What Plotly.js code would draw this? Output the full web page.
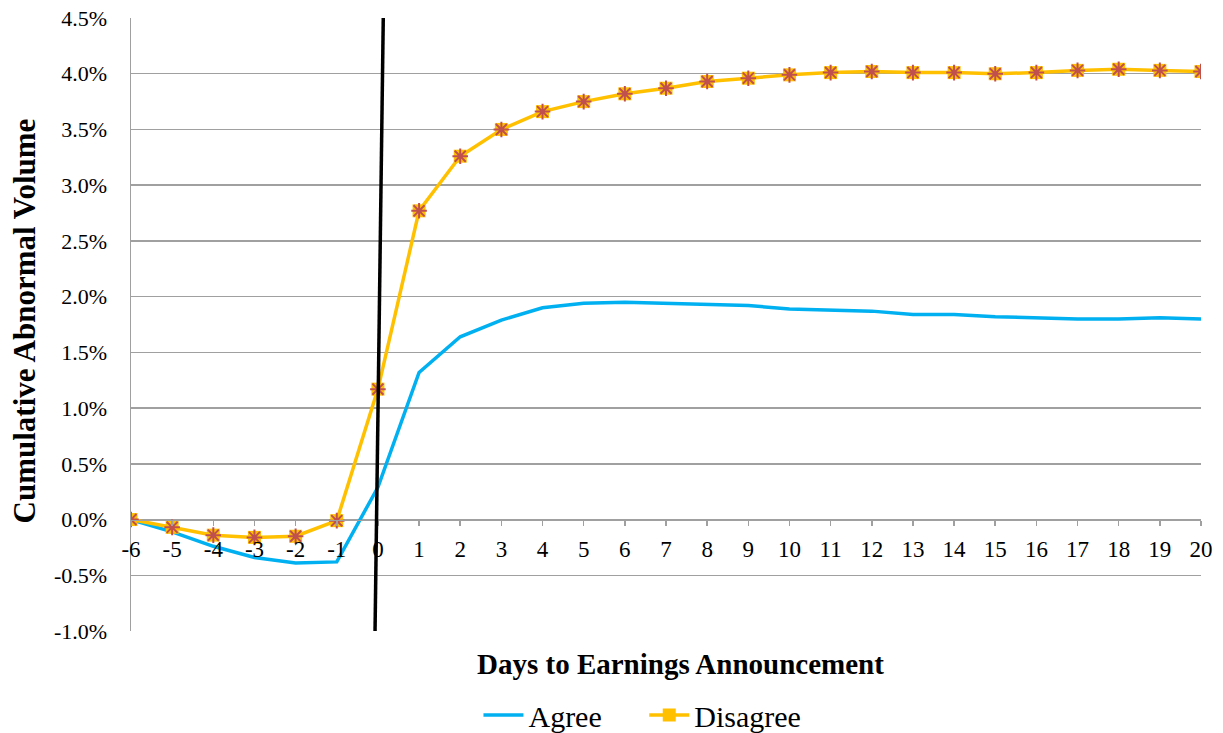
<!DOCTYPE html>
<html>
<head>
<meta charset="utf-8">
<script src="https://cdn.plot.ly/plotly-3.0.1.min.js"></script>
<style>html,body{margin:0;padding:0;background:#fff;}#chart{width:1223px;height:733px;}</style>
</head>
<body>
<div id="chart"></div>
<script>
const days = [-6,-5,-4,-3,-2,-1,0,1,2,3,4,5,6,7,8,9,10,11,12,13,14,15,16,17,18,19,20];
const agree = [0.00,-0.11,-0.24,-0.34,-0.39,-0.38,0.29,1.32,1.64,1.79,1.90,1.94,1.95,1.94,1.93,1.92,1.89,1.88,1.87,1.84,1.84,1.82,1.81,1.80,1.80,1.81,1.80];
const disagree = [0.00,-0.07,-0.14,-0.16,-0.15,-0.01,1.17,2.77,3.26,3.50,3.66,3.75,3.82,3.87,3.93,3.96,3.99,4.01,4.02,4.01,4.01,4.00,4.01,4.03,4.04,4.03,4.02];
const yTickVals = [-1.0,-0.5,0.0,0.5,1.0,1.5,2.0,2.5,3.0,3.5,4.0,4.5];
const yTickText = ["-1.0%","-0.5%","0.0%","0.5%","1.0%","1.5%","2.0%","2.5%","3.0%","3.5%","4.0%","4.5%"];
const xTickText = days.map(d => String(d));
const eventLineX = [-0.07, 0.13]; // bottom, top of the announcement line
const yRange = [-1.0, 4.5];

const serif = 'Liberation Serif';
const grid = '#a0a0a0';
const pad = '\u00A0\u00A0\u00A0\u00A0\u00A0';

const traces = [
  {x: days, y: agree, name: 'Agree' + pad, type: 'scatter', mode: 'lines',
   line: {color: '#00B0F0', width: 3.5}},
  {x: days, y: disagree, name: 'Disagree', type: 'scatter', mode: 'lines+markers',
   line: {color: '#FFC000', width: 3.5},
   marker: {symbol: 'square', size: 13, color: '#FFC000', line: {width: 0}}},
  {x: days, y: disagree, name: 'Disagree', type: 'scatter', mode: 'markers', showlegend: false,
   hoverinfo: 'skip',
   marker: {symbol: 'asterisk-open', size: 13, color: '#C0504D', line: {color: '#C0504D', width: 2}}}
];

const zeroFrac = (0 - yRange[0]) / (yRange[1] - yRange[0]);

const layout = {
  width: 1223, height: 733,
  margin: {l: 131, r: 22, t: 18, b: 102, autoexpand: false},
  paper_bgcolor: '#fff', plot_bgcolor: '#fff',
  font: {family: serif, color: '#000', size: 20},
  showlegend: true,
  legend: {orientation: 'h', x: 0.478, xanchor: 'center', y: -0.137, yanchor: 'middle',
           font: {family: serif, size: 30, color: '#000'}, itemwidth: 40, traceorder: 'normal'},
  xaxis: {
    range: [-6, 20], tickmode: 'array', tickvals: days, ticktext: xTickText,
    anchor: 'free', position: zeroFrac, showgrid: false, zeroline: false,
    showline: true, linecolor: grid, linewidth: 1.5,
    ticks: 'outside', ticklen: 5, tickcolor: grid, tickwidth: 1.5, ticklabelstandoff: 3,
    tickfont: {family: serif, size: 23, color: '#000'}, fixedrange: true
  },
  yaxis: {
    range: yRange, tickmode: 'array', tickvals: yTickVals, ticktext: yTickText,
    showgrid: true, gridcolor: grid, gridwidth: 1.5, zeroline: false,
    showline: true, linecolor: grid, linewidth: 1.5, ticks: '',
    tickfont: {family: serif, size: 22, color: '#000'}, ticklabelstandoff: 18, fixedrange: true
  },
  shapes: [
    {type: 'line', xref: 'x', yref: 'y', x0: eventLineX[0], y0: yRange[0], x1: eventLineX[1], y1: yRange[1],
     line: {color: '#000', width: 3.5}, layer: 'above'}
  ],
  annotations: [
    {text: '<b>Days to Earnings Announcement</b>', xref: 'paper', yref: 'paper', x: 0.514, y: -0.054,
     xanchor: 'center', yanchor: 'middle', showarrow: false, font: {family: serif, size: 29, color: '#000'}},
    {text: '<b>Cumulative Abnormal Volume</b>', xref: 'paper', yref: 'paper', x: -0.1, y: 0.505,
     xanchor: 'center', yanchor: 'middle', textangle: -90, showarrow: false,
     font: {family: serif, size: 31, color: '#000'}}
  ]
};

Plotly.newPlot('chart', traces, layout, {displayModeBar: false, staticPlot: true});
</script>
</body>
</html>
